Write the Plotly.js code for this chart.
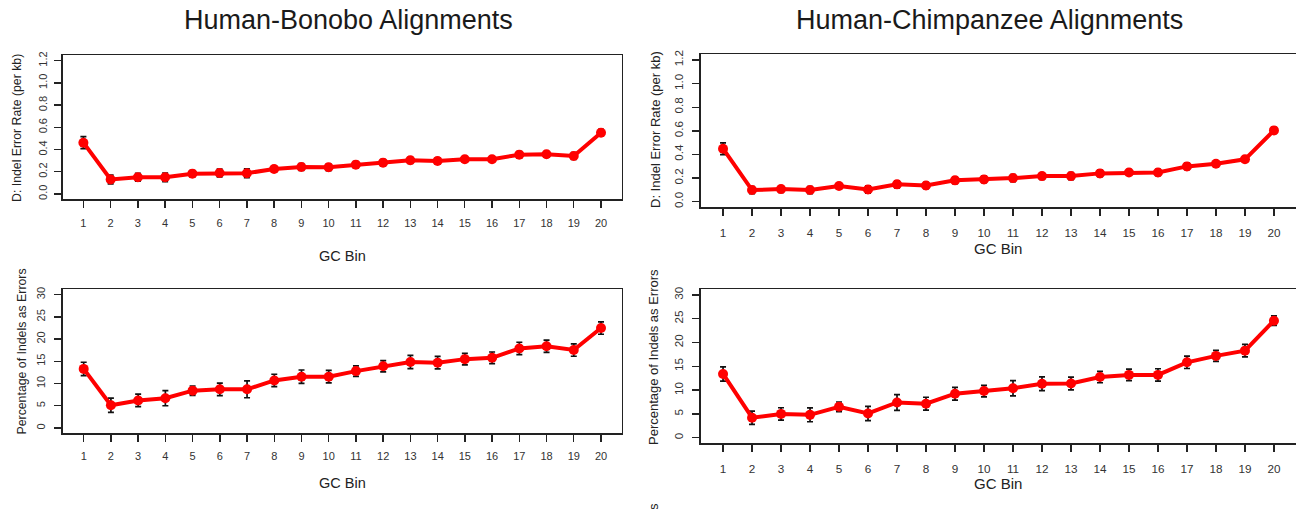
<!DOCTYPE html>
<html>
<head>
<meta charset="utf-8">
<script src="https://cdn.plot.ly/plotly-3.0.1.min.js"></script>
<style>html,body{margin:0;padding:0;background:#fff;}#chart{width:1296px;height:509px;}</style>
</head>
<body>
<div id="chart"></div>
<script>
// ---- data ----
var gcBins = [1,2,3,4,5,6,7,8,9,10,11,12,13,14,15,16,17,18,19,20];
var panelTitles = ["Human-Bonobo Alignments", "Human-Chimpanzee Alignments"];
var rateTitle = "D: Indel Error Rate (per kb)";
var pctTitle = "Percentage of Indels as Errors";
var xTitle = "GC Bin";

var bonoboRate    = [0.462,0.130,0.150,0.150,0.183,0.189,0.187,0.225,0.243,0.240,0.264,0.282,0.303,0.297,0.312,0.312,0.354,0.357,0.342,0.552];
var bonoboRateErr = [0.054,0.039,0.035,0.039,0.027,0.035,0.039,0.028,0.030,0.030,0.027,0.027,0.027,0.028,0.025,0.025,0.027,0.025,0.030,0.030];
var chimpRate     = [0.449,0.099,0.107,0.099,0.133,0.104,0.147,0.138,0.181,0.189,0.200,0.217,0.217,0.240,0.248,0.248,0.299,0.322,0.359,0.604];
var chimpRateErr  = [0.050,0.030,0.028,0.030,0.023,0.031,0.030,0.027,0.028,0.027,0.030,0.027,0.030,0.027,0.024,0.027,0.027,0.025,0.024,0.025];
var bonoboPct     = [13.3,5.1,6.2,6.7,8.4,8.7,8.7,10.7,11.55,11.55,12.8,13.9,14.85,14.7,15.5,15.8,17.9,18.4,17.55,22.5];
var bonoboPctErr  = [1.5,1.6,1.4,1.7,1.05,1.4,1.9,1.4,1.5,1.4,1.2,1.25,1.5,1.4,1.3,1.3,1.4,1.4,1.4,1.4];
var chimpPct      = [13.4,4.2,5.0,4.8,6.5,5.1,7.4,7.15,9.25,9.8,10.4,11.35,11.4,12.75,13.2,13.2,15.85,17.2,18.3,24.6];
var chimpPctErr   = [1.5,1.4,1.3,1.45,1.0,1.5,1.65,1.35,1.35,1.2,1.6,1.45,1.35,1.2,1.2,1.3,1.3,1.15,1.3,1.0];

var rateTicks = [0,0.2,0.4,0.6,0.8,1.0,1.2];
var pctTicks = [0,5,10,15,20,25,30];

// ---- layout helpers (pixel geometry) ----
var W = 1296, H = 509;
function px(x){ return x / W; }
function py(y){ return 1 - y / H; }

var panels = [
  {ys: bonoboRate, err: bonoboRateErr, ticks: rateTicks, fmt: '.1f', range: [-0.048, 1.248],
   box: [62.7, 621.7, 55.4, 199.3], font: 11, xstand: 6, ystand: 3, ytitle: rateTitle, ytx: 17, yty: 128, ytf: 12.3,
   xtx: 342, xty: 256, xtf: 14.5},
  {ys: chimpRate, err: chimpRateErr, ticks: rateTicks, fmt: '.1f', range: [-0.048, 1.248],
   box: [701, 1296, 54.3, 207.4], font: 11.7, xstand: 7, ystand: 5, ytitle: rateTitle, ytx: 655, yty: 130, ytf: 13,
   xtx: 998, xty: 248, xtf: 15},
  {ys: bonoboPct, err: bonoboPctErr, ticks: pctTicks, fmt: 'd', range: [-1.2, 31.2],
   box: [63, 621.7, 289.4, 433.3], font: 11, xstand: 5, ystand: 5, ytitle: pctTitle, ytx: 21.5, yty: 352, ytf: 12.3,
   xtx: 342, xty: 483, xtf: 14.5},
  {ys: chimpPct, err: chimpPctErr, ticks: pctTicks, fmt: 'd', range: [-1.2, 31.2],
   box: [701, 1296, 289.3, 443.4], font: 11.7, xstand: 7, ystand: 5, ytitle: pctTitle, ytx: 653, yty: 357, ytf: 13,
   xtx: 998, xty: 483, xtf: 15}
];

var traces = [];
var layout = {
  width: W, height: H,
  margin: {l:0, r:0, t:0, b:0},
  paper_bgcolor: '#fff', plot_bgcolor: '#fff',
  showlegend: false,
  font: {family: 'Liberation Sans, Arial, sans-serif', color: '#1a1a1a'},
  annotations: []
};

panels.forEach(function(p, i){
  var n = i + 1;
  var s = (n === 1 ? '' : String(n));
  traces.push({
    x: gcBins, y: p.ys, xaxis: 'x' + s, yaxis: 'y' + s,
    type: 'scatter', mode: 'lines+markers',
    line: {color: '#ff0000', width: 4},
    marker: {color: '#ff0000', size: 10},
    error_y: {type: 'data', array: p.err, visible: true, color: '#111', thickness: 1.7, width: 3},
    hoverinfo: 'x+y'
  });
  var common = {
    showline: true, mirror: true, linecolor: '#222', linewidth: 1.6,
    showgrid: false, zeroline: false, ticks: 'outside', ticklen: 7,
    tickcolor: '#222', tickwidth: 1.4, fixedrange: true,
    tickfont: {size: p.font, color: '#333', family: 'Liberation Sans, Arial, sans-serif'}
  };
  layout['xaxis' + s] = Object.assign({}, common, {
    domain: [px(p.box[0]), px(p.box[1])], range: [0.24, 20.76],
    anchor: 'y' + s, tickmode: 'array', tickvals: gcBins,
    ticktext: gcBins.map(String), ticklabelstandoff: p.xstand
  });
  layout['yaxis' + s] = Object.assign({}, common, {
    domain: [py(p.box[3]), py(p.box[2])], range: p.range,
    anchor: 'x' + s, tickmode: 'array', tickvals: p.ticks, tickformat: p.fmt,
    tickangle: -90, ticklabelstandoff: p.ystand
  });
  layout.annotations.push({
    text: p.ytitle, xref: 'paper', yref: 'paper', x: px(p.ytx), y: py(p.yty),
    xanchor: 'center', yanchor: 'middle', textangle: -90, showarrow: false,
    font: {size: p.ytf, color: '#222'}
  });
  layout.annotations.push({
    text: xTitle, xref: 'paper', yref: 'paper', x: px(p.xtx), y: py(p.xty),
    xanchor: 'center', yanchor: 'middle', showarrow: false,
    font: {size: p.xtf, color: '#222'}
  });
});

layout.annotations.push({
  text: panelTitles[0], xref: 'paper', yref: 'paper', x: px(349), y: py(20),
  xanchor: 'center', yanchor: 'middle', showarrow: false, font: {size: 27, color: '#1a1a1a'}
});
layout.annotations.push({
  text: panelTitles[1], xref: 'paper', yref: 'paper', x: px(990), y: py(20),
  xanchor: 'center', yanchor: 'middle', showarrow: false, font: {size: 27, color: '#1a1a1a'}
});
// stray clipped fragment at the bottom edge
layout.annotations.push({
  text: 's', xref: 'paper', yref: 'paper', x: px(653), y: py(507),
  xanchor: 'center', yanchor: 'middle', textangle: -90, showarrow: false, font: {size: 13, color: '#222'}
});

Plotly.newPlot('chart', traces, layout, {displayModeBar: false, staticPlot: true});
</script>
</body>
</html>
